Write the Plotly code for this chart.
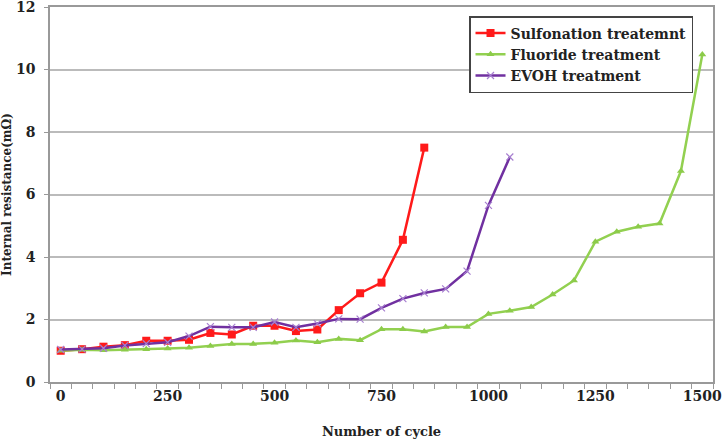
import plotly.graph_objects as go

cycles_sulf = [0, 50, 100, 150, 200, 250, 300, 350, 400, 450, 500, 550, 600, 650, 700, 750, 800, 850]
res_sulf = [1.0, 1.05, 1.13, 1.18, 1.32, 1.32, 1.35, 1.57, 1.52, 1.8, 1.8, 1.63, 1.68, 2.3, 2.84, 3.18, 4.55, 7.5]

cycles_fluo = [0, 50, 100, 150, 200, 250, 300, 350, 400, 450, 500, 550, 600, 650, 700, 750, 800, 850, 900, 950,
               1000, 1050, 1100, 1150, 1200, 1250, 1300, 1350, 1400, 1450, 1500]
res_fluo = [1.0, 1.03, 1.02, 1.03, 1.05, 1.07, 1.1, 1.15, 1.22, 1.22, 1.26, 1.33, 1.27, 1.38, 1.34, 1.69, 1.69, 1.62, 1.76, 1.76,
            2.18, 2.28, 2.4, 2.8, 3.25, 4.49, 4.81, 4.97, 5.07, 6.75, 10.48]

cycles_evoh = [0, 50, 100, 150, 200, 250, 300, 350, 400, 450, 500, 550, 600, 650, 700, 750, 800, 850, 900, 950, 1000, 1050]
res_evoh = [1.04, 1.05, 1.08, 1.17, 1.23, 1.27, 1.47, 1.77, 1.75, 1.75, 1.92, 1.75, 1.87, 2.02, 2.01, 2.37, 2.67, 2.85, 2.98, 3.55, 5.65, 7.2]

x_tick_vals = [0, 250, 500, 750, 1000, 1250, 1500]
y_tick_vals = [0, 2, 4, 6, 8, 10, 12]

FONT = "DejaVu Serif"
TXT = "#222222"

def bold(s):
    return "<b>" + s + "</b>"

fig = go.Figure()
fig.add_trace(go.Scatter(
    x=cycles_sulf, y=res_sulf, name=bold("Sulfonation treatemnt"), mode="lines+markers",
    line=dict(color="#FF1A1A", width=2.5),
    marker=dict(symbol="square", size=8, color="#FF1A1A"),
))
fig.add_trace(go.Scatter(
    x=cycles_fluo, y=res_fluo, name=bold("Fluoride treatment"), mode="lines+markers",
    line=dict(color="#92D050", width=2.5),
    marker=dict(symbol="triangle-up", size=7, color="#8CCB4A"),
))
fig.add_trace(go.Scatter(
    x=cycles_evoh, y=res_evoh, name=bold("EVOH treatment"), mode="lines+markers",
    line=dict(color="#7030A0", width=2.5),
    marker=dict(symbol="x-thin", size=7, line=dict(color="#A77FD0", width=1.2)),
))

fig.update_layout(
    width=722, height=439,
    margin=dict(l=50, r=9, t=7, b=57),
    paper_bgcolor="white", plot_bgcolor="white",
    font=dict(family=FONT, size=14, color=TXT),
    showlegend=True,
    legend=dict(
        x=0.632, y=0.976, xanchor="left", yanchor="top",
        bgcolor="white", bordercolor="#444444", borderwidth=1.5,
        font=dict(family=FONT, size=14, color=TXT),
        tracegroupgap=0,
    ),
    xaxis=dict(
        range=[-25, 1525], tickvals=x_tick_vals, ticktext=[bold(str(v)) for v in x_tick_vals],
        ticks="", showgrid=False, ticklabeloverflow="allow", automargin=False,
        showline=True, linecolor="#999999", linewidth=1.5, mirror=True,
        zeroline=False,
        minor=dict(tick0=25, dtick=50, ticks="outside", ticklen=5, tickcolor="#999999", showgrid=False),
        tickfont=dict(family=FONT, size=14, color=TXT),
        title=dict(text=bold("Number of cycle"), font=dict(family=FONT, size=13, color=TXT), standoff=34),
    ),
    yaxis=dict(
        range=[0, 12], tickvals=y_tick_vals, ticktext=[bold(str(v)) for v in y_tick_vals],
        ticks="outside", ticklen=4, tickcolor="#999999", ticklabeloverflow="allow", automargin=False,
        ticklabelstandoff=6,
        showgrid=True, gridcolor="#BBBBBB", gridwidth=1.5,
        showline=True, linecolor="#999999", linewidth=1.5, mirror=True,
        zeroline=False,
        tickfont=dict(family=FONT, size=14, color=TXT),
        title=dict(text=bold("Internal resistance(mΩ)"), font=dict(family=FONT, size=12, color=TXT), standoff=4),
    ),
)

fig.write_html("out.html")
